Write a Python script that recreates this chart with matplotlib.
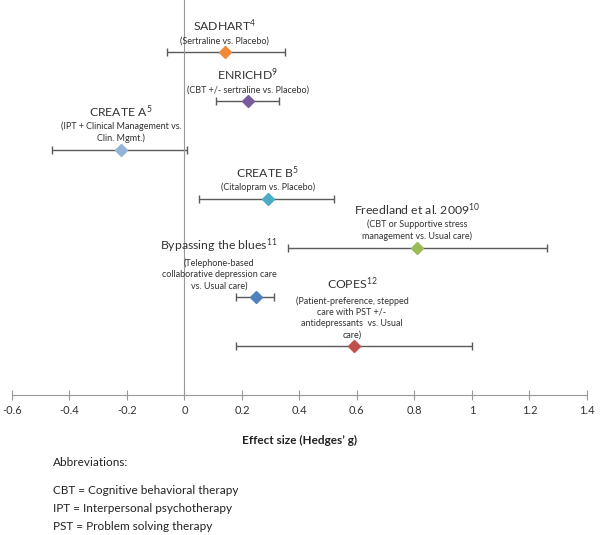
import matplotlib.pyplot as plt

plt.rcParams["font.family"] = ["Lato", "DejaVu Sans"]
plt.rcParams["mathtext.default"] = "regular"

# study data (top to bottom)
studies = ["SADHART", "ENRICHD", "CREATE A", "CREATE B",
           "Freedland et al. 2009", "Bypassing the blues", "COPES"]
refs = ["4", "9", "5", "5", "10", "11", "12"]
subtitles = [
    "(Sertraline vs. Placebo)",
    "(CBT +/- sertraline vs. Placebo)",
    "(IPT + Clinical Management vs.\nClin. Mgmt.)",
    "(Citalopram vs. Placebo)",
    "(CBT or Supportive stress\nmanagement vs. Usual care)",
    "(Telephone-based\ncollaborative depression care\nvs. Usual care)",
    "(Patient-preference, stepped\ncare with PST +/-\nantidepressants  vs. Usual\ncare)",
]
effect = [0.14, 0.22, -0.22, 0.29, 0.81, 0.25, 0.59]
ci_low = [-0.06, 0.11, -0.46, 0.05, 0.36, 0.18, 0.18]
ci_high = [0.35, 0.33, 0.01, 0.52, 1.26, 0.31, 1.00]
ypos = [7, 6, 5, 4, 3, 2, 1]
colors = ["#F08A3A", "#7A5C9E", "#95B3D7", "#4BACC6", "#9BBB59", "#4F81BD", "#C0504D"]
label_dx = [0, 0, 0, 0, 0, -37, -2]  # px shift of label from marker

xticks = [-0.6, -0.4, -0.2, 0, 0.2, 0.4, 0.6, 0.8, 1, 1.2, 1.4]
abbrevs = ["CBT = Cognitive behavioral therapy",
           "IPT = Interpersonal psychotherapy",
           "PST = Problem solving therapy"]

fig = plt.figure(figsize=(6, 5.35), dpi=100)
ax = fig.add_axes([0.02, 1 - 395 / 535, 0.958, 395 / 535])

px = 0.72  # points per pixel at 100 dpi
for i in range(len(studies)):
    e = effect[i]
    ax.errorbar(e, ypos[i], xerr=[[e - ci_low[i]], [ci_high[i] - e]],
                fmt="none", ecolor="#5a5a5a", elinewidth=1.0, capsize=3, capthick=1.0)
    ax.plot(e, ypos[i], marker="D", color=colors[i], markersize=6.5,
            markeredgecolor=colors[i], zorder=5)
    n = subtitles[i].count("\n") + 1
    ax.annotate(subtitles[i], (e, ypos[i]), xytext=(label_dx[i] * px, 6.5 * px),
                textcoords="offset points", ha="center", va="bottom",
                fontsize=6.5, color="#333333", linespacing=1.33)
    ax.annotate(studies[i] + "$^{" + refs[i] + "}$", (e, ypos[i]),
                xytext=(label_dx[i] * px, (5.5 + 12 * n) * px),
                textcoords="offset points", ha="center", va="bottom",
                fontsize=8.8, color="#333333")

ax.set_xlim(-0.6, 1.4)
ax.set_ylim(0, 8.06)
ax.set_xticks(xticks)
ax.set_xticklabels([f"{t:g}" for t in xticks])
ax.set_yticks([])
for s in ["top", "right"]:
    ax.spines[s].set_visible(False)
ax.spines["left"].set_position(("data", 0))
ax.spines["left"].set_color("#999999")
ax.spines["bottom"].set_color("#999999")
ax.tick_params(axis="x", direction="inout", length=7, color="#999999",
               labelsize=8, labelcolor="#333333", pad=4)

fig.text(0.5, 1 - 440 / 535, "Effect size (Hedges’ g)", ha="center", va="center",
         fontsize=8.5, fontweight="bold", color="#222222")
fig.text(53 / 600, 1 - 463 / 535, "Abbreviations:", ha="left", va="center",
         fontsize=8.5, color="#222222")
for k, a in enumerate(abbrevs):
    fig.text(53 / 600, 1 - (490 + 18.5 * k) / 535, a, ha="left", va="center",
             fontsize=8.5, color="#222222")

fig.savefig("out.png", dpi=100)
